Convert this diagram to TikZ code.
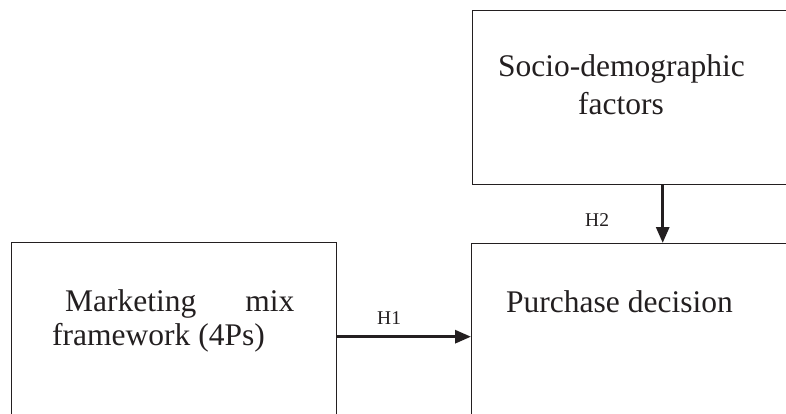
\documentclass[tikz,border=0pt]{standalone}
\usepackage{xcolor}
\usepackage{fontspec}
\setmainfont{Liberation Serif}
\usepackage{tikz}
\usetikzlibrary{arrows.meta}
\definecolor{ink}{HTML}{231F20}

\begin{document}
\begin{tikzpicture}[x=1pt,y=-1pt,>={Triangle[length=16pt,width=13pt]},
	box/.style={draw=ink,line width=1.4pt,inner sep=0pt,anchor=north west},
	big/.style={inner sep=0pt,anchor=base west,text=ink,font=\fontsize{31.5pt}{38pt}\selectfont},
	hyp/.style={inner sep=0pt,anchor=base west,text=ink,font=\fontsize{19.5pt}{23pt}\selectfont},
	link/.style={->,draw=ink,line width=3pt}]
			%\useasboundingbox[draw](0,0) rectangle(786,414);
			\useasboundingbox (0,0) rectangle (786,414);
			\clip (0,0) rectangle (786,414);
			% % % % % % % % % % % % % % %
			%三个框 (右边和下边超出画面)
			\node[box,minimum width=325pt,minimum height=188pt] (mix) at (11,242) {};
			\node[box,minimum width=380pt,minimum height=174pt] (socio) at (472,10) {};
			\node[box,minimum width=382pt,minimum height=186pt] (decision) at (471,243) {};
			%框里的文字
			\node[big] (mixA) at (65,311) {Marketing\hspace{49pt}mix};
			\node[big] (mixB) at (52,345) {framework (4Ps)};
			\node[big] (socioA) at (498,77) {Socio-demographic};
			\node[big] (socioB) at (578,115) {factors};
			\node[big] (decisionA) at (506,312) {Purchase decision};
			%箭头
			\draw[link] (mix.east) -- (decision.west);
			\draw[link] (socio.south) -- (decision.north);
			%标注H1 H2
			\node[hyp] (hA) at (377,324) {H1};
			\node[hyp] (hB) at (585,226) {H2};
		\end{tikzpicture}
\end{document}
